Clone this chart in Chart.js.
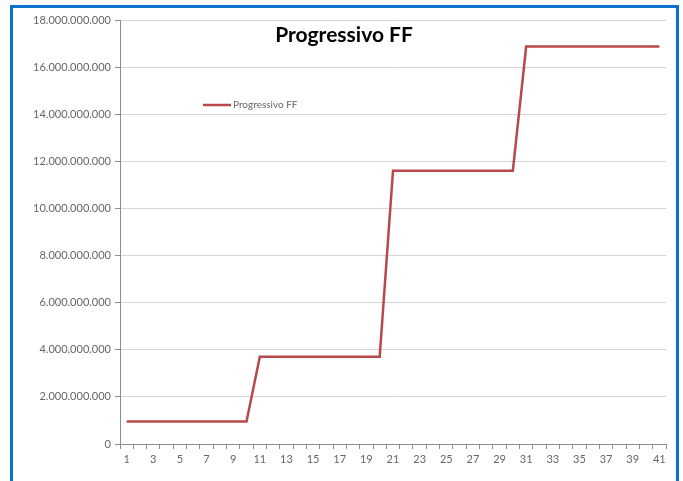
<!DOCTYPE html>
<html>
<head>
<meta charset="utf-8">
<script src="https://cdn.jsdelivr.net/npm/chart.js@4/dist/chart.umd.min.js"></script>
<style>
  html, body { margin: 0; padding: 0; background: #fff; }
  #wrap { position: relative; width: 683px; height: 481px; overflow: hidden; }
  #frame { position: absolute; left: 10px; top: 5px; width: 663px; height: 520px;
           border: 3px solid #0b72cf; pointer-events: none; }
  canvas { position: absolute; left: 0; top: 0; }
</style>
</head>
<body>
<div id="wrap">
  <canvas id="c" width="683" height="481"></canvas>
  <div id="frame"></div>
</div>
<script>
const chartTitle = "Progressivo FF";
const seriesName = "Progressivo FF";
const categories = [1,2,3,4,5,6,7,8,9,10,11,12,13,14,15,16,17,18,19,20,21,22,23,24,25,26,27,28,29,30,31,32,33,34,35,36,37,38,39,40,41];
const progressivo = [
  950000000, 950000000, 950000000, 950000000, 950000000, 950000000, 950000000, 950000000, 950000000, 950000000,
  3700000000, 3700000000, 3700000000, 3700000000, 3700000000, 3700000000, 3700000000, 3700000000, 3700000000, 3700000000,
  11600000000, 11600000000, 11600000000, 11600000000, 11600000000, 11600000000, 11600000000, 11600000000, 11600000000, 11600000000,
  16870000000, 16870000000, 16870000000, 16870000000, 16870000000, 16870000000, 16870000000, 16870000000, 16870000000, 16870000000, 16870000000
];
const yTicks = [0, 2000000000, 4000000000, 6000000000, 8000000000, 10000000000, 12000000000, 14000000000, 16000000000, 18000000000];

const lineColor = '#b8484a';
const fontFam = 'Lato, "Open Sans", sans-serif';

function fmt(v) {
  return String(Math.round(v)).replace(/\B(?=(\d{3})+(?!\d))/g, '.');
}

const overlay = {
  id: 'overlay',
  afterDraw(chart) {
    const ctx = chart.ctx;
    ctx.save();
    ctx.fillStyle = '#000';
    ctx.font = 'bold 21px ' + fontFam;
    ctx.textAlign = 'center';
    ctx.textBaseline = 'middle';
    ctx.fillText(chartTitle, 344, 35);
    // legend
    ctx.strokeStyle = lineColor;
    ctx.lineWidth = 2.5;
    ctx.beginPath();
    ctx.moveTo(203, 105);
    ctx.lineTo(231, 105);
    ctx.stroke();
    ctx.fillStyle = '#666';
    ctx.font = '10px ' + fontFam;
    ctx.textAlign = 'left';
    ctx.fillText(seriesName, 233, 105);
    ctx.restore();
  }
};

new Chart(document.getElementById('c'), {
  type: 'line',
  data: {
    labels: categories,
    datasets: [{
      label: seriesName,
      data: progressivo,
      borderColor: lineColor,
      borderWidth: 2.5,
      pointRadius: 0,
      tension: 0,
      fill: false
    }]
  },
  options: {
    responsive: false,
    animation: false,
    layout: { padding: { top: 20, right: 17, bottom: 0, left: 0 } },
    plugins: { legend: { display: false }, title: { display: false }, tooltip: { enabled: false } },
    scales: {
      x: {
        offset: true,
        grid: { offset: true, drawOnChartArea: false, drawTicks: true, tickLength: 5, color: '#8c8c8c' },
        border: { color: '#8c8c8c', width: 1 },
        ticks: {
          autoSkip: false, maxRotation: 0, color: '#666', padding: 4,
          font: { family: fontFam, size: 11 },
          callback: function(val, idx) { return idx % 2 === 0 ? categories[idx] : ''; }
        },
        afterFit: s => { s.height = 37; }
      },
      y: {
        min: 0, max: 18000000000,
        afterBuildTicks: s => { s.ticks = yTicks.map(v => ({ value: v })); },
        grid: { color: '#d4d4d4', tickLength: 5, tickColor: '#8c8c8c' },
        border: { color: '#8c8c8c', width: 1 },
        ticks: { color: '#666', padding: 4, font: { family: fontFam, size: 11 }, callback: v => fmt(v) },
        afterFit: s => { s.width = 120; }
      }
    }
  },
  plugins: [overlay]
});
</script>
</body>
</html>
